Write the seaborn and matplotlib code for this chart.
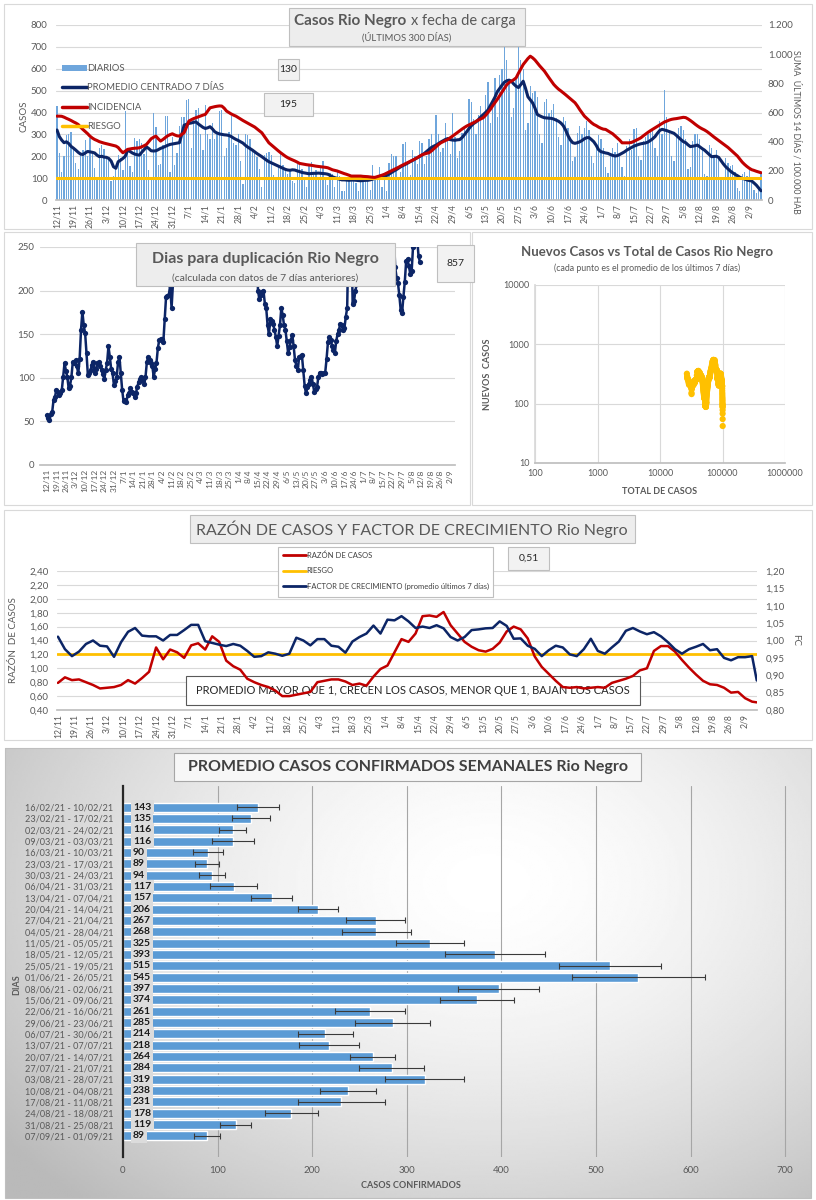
import numpy as np
import pandas as pd
import matplotlib
matplotlib.use("Agg")
import matplotlib.pyplot as plt
import seaborn as sns
from matplotlib.patches import Rectangle, Patch
from matplotlib.lines import Line2D
from matplotlib.ticker import FuncFormatter, NullLocator

# ------------------------------------------------------------------ DATA
FECHA_INICIO = "2020-11-12"

diarios = [
    430, 215, 130, 200, 295, 300, 310,
    240, 170, 140, 205, 230, 275, 200,
    285, 210, 145, 90, 240, 250, 235,
    200, 190, 85, 110, 140, 205, 190,
    135, 405, 230, 155, 130, 285, 270,
    280, 260, 210, 250, 135, 95, 400,
    335, 160, 165, 250, 385, 385, 130,
    290, 160, 215, 340, 380, 380, 455,
    460, 240, 380, 410, 420, 300, 230,
    435, 300, 280, 350, 280, 300, 405,
    410, 200, 240, 310, 385, 260, 250,
    300, 180, 75, 300, 295, 280, 230,
    225, 195, 140, 60, 205, 215, 220,
    205, 115, 90, 150, 215, 160, 145,
    120, 140, 85, 80, 165, 160, 140,
    95, 60, 155, 175, 120, 135, 100,
    145, 180, 100, 70, 125, 120, 60,
    135, 110, 40, 40, 95, 100, 110,
    95, 80, 40, 100, 110, 105, 90,
    45, 160, 100, 110, 150, 60, 90,
    40, 170, 210, 200, 200, 100, 130,
    255, 265, 175, 115, 230, 200, 165,
    270, 260, 165, 200, 280, 300, 245,
    390, 300, 220, 240, 350, 285, 210,
    400, 290, 190, 225, 305, 330, 320,
    460, 450, 370, 300, 390, 430, 380,
    480, 540, 350, 420, 560, 380, 570,
    600, 705, 640, 530, 380, 420, 560,
    705, 640, 600, 320, 350, 520, 490,
    500, 470, 300, 260, 450, 460, 400,
    410, 440, 375, 290, 250, 380, 360,
    330, 280, 180, 195, 305, 340, 300,
    330, 360, 320, 200, 170, 255, 295,
    280, 240, 150, 125, 215, 240, 220,
    260, 205, 150, 110, 245, 280, 230,
    325, 330, 200, 185, 270, 290, 300,
    310, 330, 240, 200, 360, 300, 505,
    380, 310, 200, 180, 300, 330, 340,
    320, 280, 140, 150, 270, 300, 300,
    280, 230, 120, 110, 250, 240, 200,
    230, 200, 100, 90, 190, 170, 155,
    160, 130, 55, 40, 120, 130, 110,
    140, 80, 45, 30, 60, 130,
]

promedio_7d = [
    320, 290, 274, 262, 266, 258, 245, 237, 228, 218,
    210, 208, 215, 222, 220, 218, 215, 205, 198, 200,
    196, 195, 190, 178, 152, 145, 175, 182, 190, 200,
    228, 222, 215, 210, 207, 205, 218, 230, 243, 235,
    225, 224, 225, 230, 236, 240, 245, 250, 254, 256,
    258, 260, 262, 300, 342, 346, 350, 352, 355, 357,
    348, 340, 332, 327, 330, 335, 325, 312, 306, 302,
    300, 298, 297, 295, 290, 283, 277, 272, 266, 260,
    250, 242, 235, 228, 220, 212, 205, 198, 190, 182,
    175, 170, 165, 160, 155, 150, 145, 140, 137, 136,
    138, 137, 133, 130, 126, 124, 122, 120, 121, 122,
    122, 123, 122, 121, 120, 118, 112, 106, 102, 99,
    95, 92, 92, 91, 90, 91, 91, 90, 89, 88,
    89, 90, 90, 92, 95, 100, 102, 104, 105, 105,
    112, 118, 125, 132, 138, 145, 152, 158, 163, 169,
    175, 181, 187, 193, 199, 205, 213, 222, 231, 240,
    246, 251, 258, 265, 271, 277, 281, 276, 274, 273,
    275, 276, 285, 298, 312, 327, 340, 350, 357, 368,
    380, 390, 400, 411, 430, 450, 470, 495, 510, 525,
    538, 545, 548, 543, 530, 520, 514, 528, 543, 510,
    472, 458, 444, 420, 391, 385, 380, 376, 375, 374,
    373, 370, 365, 360, 352, 340, 320, 295, 275, 262,
    259, 262, 266, 272, 280, 285, 285, 276, 266, 250,
    230, 221, 218, 215, 213, 208, 204, 201, 203, 208,
    214, 220, 228, 234, 240, 246, 250, 254, 257, 259,
    261, 265, 272, 280, 290, 305, 318, 323, 320, 317,
    313, 309, 305, 296, 286, 276, 267, 262, 252, 244,
    246, 248, 251, 243, 235, 228, 218, 208, 198, 199,
    200, 195, 180, 165, 152, 142, 132, 124, 117, 111,
    104, 99, 96, 92, 89, 87, 78, 68, 55, 42,
]

incidencia_14d = [
    575, 575, 574, 568, 560, 553, 545, 536, 528, 518,
    500, 484, 470, 455, 438, 425, 415, 408, 400, 395,
    390, 386, 382, 378, 374, 370, 360, 340, 324, 335,
    347, 350, 353, 355, 356, 358, 365, 372, 381, 400,
    420, 430, 438, 420, 404, 415, 428, 440, 448, 454,
    446, 440, 438, 450, 461, 500, 541, 550, 558, 564,
    570, 576, 582, 587, 610, 632, 636, 640, 643, 645,
    644, 630, 610, 600, 590, 582, 575, 565, 555, 545,
    536, 527, 518, 509, 500, 487, 474, 461, 438, 415,
    392, 378, 365, 351, 337, 324, 312, 300, 290, 282,
    275, 268, 260, 251, 248, 245, 242, 240, 238, 235,
    232, 230, 228, 226, 224, 221, 214, 207, 203, 199,
    193, 187, 181, 176, 170, 164, 164, 164, 164, 164,
    162, 161, 160, 158, 156, 155, 160, 165, 170, 176,
    184, 192, 200, 208, 216, 224, 233, 241, 249, 257,
    265, 273, 281, 290, 300, 310, 315, 320, 324, 336,
    350, 365, 380, 392, 400, 408, 415, 427, 438, 450,
    462, 474, 486, 497, 507, 515, 523, 531, 540, 548,
    556, 564, 580, 600, 620, 645, 667, 690, 715, 740,
    765, 790, 805, 815, 825, 838, 870, 900, 929, 950,
    970, 986, 975, 960, 940, 920, 902, 884, 860, 837,
    815, 792, 775, 760, 748, 735, 722, 708, 694, 680,
    667, 645, 620, 597, 575, 560, 545, 530, 518, 510,
    500, 492, 486, 484, 474, 464, 454, 440, 425, 410,
    392, 392, 392, 392, 395, 402, 410, 418, 427, 440,
    452, 464, 475, 485, 495, 505, 515, 525, 535, 541,
    548, 553, 556, 558, 561, 564, 567, 565, 556, 545,
    533, 520, 508, 497, 488, 480, 470, 458, 445, 432,
    420, 408, 396, 384, 372, 360, 345, 330, 315, 301,
    280, 260, 244, 230, 218, 208, 203, 197, 192, 187,
]
riesgo_casos = 100
caja_diarios = "130"
caja_incidencia = "195"

# dias para duplicacion (values above 250 fall outside the chart)
duplicacion = [
    57, 54, 52, 58, 61, 75, 78, 86, 84, 80,
    82, 86, 101, 117, 108, 101, 88, 91, 101, 118,
    117, 120, 113, 105, 122, 155, 176, 160, 151, 128,
    103, 106, 109, 115, 118, 105, 110, 117, 118, 114,
    109, 104, 99, 109, 117, 136, 124, 110, 105, 92,
    96, 101, 118, 124, 105, 86, 73, 75, 72, 80,
    82, 88, 84, 82, 78, 82, 90, 95, 99, 101,
    97, 93, 101, 118, 124, 120, 117, 113, 101, 110,
    117, 134, 143, 144, 145, 141, 168, 193, 194, 195,
    206, 180, 208,
    270, 285, 300, 310, 320, 330, 340, 350, 355, 360,
    370, 380, 390, 400, 410, 415, 420, 425, 430, 440,
    450, 460, 470, 480, 490, 500, 510, 520, 530, 540,
    550, 560, 570, 580, 590, 600, 600, 590, 580, 560,
    540, 520, 500, 480, 460, 440, 420, 400, 380, 360,
    345, 330, 315, 300, 290, 280, 275, 270, 265, 260,
    258,
    200, 190, 195, 198, 200, 185, 180, 160, 150, 168,
    165, 162, 155, 147, 136, 148, 160, 180, 172, 160,
    155, 142, 128, 135, 143, 149, 136, 120, 114, 109,
    124, 125, 126, 109, 91, 82, 89, 93, 97, 101,
    93, 84, 87, 89, 101, 106, 105, 104, 105, 106,
    122, 141, 147, 143, 137, 132, 128, 142, 150, 155,
    162, 160, 155, 157, 170, 180, 265, 290, 270, 185,
    188, 200, 208,
    270, 300, 330, 360, 400, 430, 460, 480, 500, 510,
    520, 520, 510, 500, 480, 460, 440, 420, 400, 380,
    360, 340, 320, 300, 285, 275, 265,
    227, 215, 209, 195, 178, 174, 193, 210, 234, 236,
    228, 219, 222, 250, 270, 290, 260, 240, 233,
]
caja_duplicacion = "857"

total_inicial = 26500   # casos acumulados antes del primer dia

paso_razon = 3
razon_casos = [
    0.79, 0.87, 0.83, 0.84, 0.80, 0.76, 0.71, 0.72, 0.73, 0.76,
    0.83, 0.78, 0.86, 0.95, 1.30, 1.13, 1.27, 1.23, 1.15, 1.33,
    1.36, 1.27, 1.46, 1.38, 1.11, 1.03, 0.98, 0.85, 0.80, 0.76,
    0.73, 0.68, 0.60, 0.60, 0.62, 0.64, 0.66, 0.80, 0.82, 0.84,
    0.84, 0.81, 0.76, 0.78, 0.75, 0.88, 0.99, 1.04, 1.23, 1.42,
    1.38, 1.50, 1.75, 1.76, 1.74, 1.81, 1.62, 1.50, 1.38, 1.31,
    1.26, 1.24, 1.28, 1.37, 1.53, 1.60, 1.56, 1.43, 1.17, 1.02,
    0.92, 0.82, 0.73, 0.72, 0.73, 0.71, 0.72, 0.73, 0.72, 0.79,
    0.82, 0.85, 0.89, 0.97, 1.00, 1.25, 1.32, 1.32, 1.24, 1.12,
    1.01, 0.91, 0.82, 0.77, 0.76, 0.72, 0.65, 0.66, 0.57, 0.52,
    0.51,
]
factor_crecimiento = [
    1.011, 0.975, 0.955, 0.968, 0.990, 1.000, 0.985, 0.983, 0.953, 0.995,
    1.025, 1.036, 1.014, 1.012, 1.012, 1.000, 1.016, 1.016, 1.030, 1.045,
    1.045, 0.998, 0.993, 0.988, 0.984, 0.990, 0.985, 0.970, 0.953, 0.955,
    0.966, 0.962, 0.956, 0.962, 1.008, 1.000, 0.986, 1.004, 1.004, 0.985,
    0.982, 0.965, 0.997, 1.010, 1.020, 1.043, 1.020, 1.060, 1.058, 1.070,
    1.055, 1.036, 1.040, 1.036, 1.044, 1.035, 1.010, 1.000, 1.010, 1.030,
    1.032, 1.035, 1.036, 1.055, 1.042, 1.005, 1.006, 0.985, 0.976, 0.955,
    0.972, 0.985, 0.980, 0.960, 0.955, 0.975, 1.005, 0.970, 0.962, 0.980,
    0.997, 1.028, 1.036, 1.026, 1.018, 1.024, 1.012, 0.995, 0.975, 0.962,
    0.975, 0.982, 0.990, 0.972, 0.975, 0.950, 0.943, 0.952, 0.952, 0.955,
    0.885,
]
riesgo_razon = 1.2
caja_razon = "0,51"

semanas = [
    "16/02/21 - 10/02/21", "23/02/21 - 17/02/21", "02/03/21 - 24/02/21",
    "09/03/21 - 03/03/21", "16/03/21 - 10/03/21", "23/03/21 - 17/03/21",
    "30/03/21 - 24/03/21", "06/04/21 - 31/03/21", "13/04/21 - 07/04/21",
    "20/04/21 - 14/04/21", "27/04/21 - 21/04/21", "04/05/21 - 28/04/21",
    "11/05/21 - 05/05/21", "18/05/21 - 12/05/21", "25/05/21 - 19/05/21",
    "01/06/21 - 26/05/21", "08/06/21 - 02/06/21", "15/06/21 - 09/06/21",
    "22/06/21 - 16/06/21", "29/06/21 - 23/06/21", "06/07/21 - 30/06/21",
    "13/07/21 - 07/07/21", "20/07/21 - 14/07/21", "27/07/21 - 21/07/21",
    "03/08/21 - 28/07/21", "10/08/21 - 04/08/21", "17/08/21 - 11/08/21",
    "24/08/21 - 18/08/21", "31/08/21 - 25/08/21", "07/09/21 - 01/09/21",
]
promedio_semanal = [143, 135, 116, 116, 90, 89, 94, 117, 157, 206, 267, 268, 325, 393, 515,
                    545, 397, 374, 261, 285, 214, 218, 264, 284, 319, 238, 231, 178, 119, 89]
error_semanal = [22, 20, 14, 22, 16, 13, 14, 25, 22, 21, 31, 36, 36, 53, 54,
                 70, 43, 39, 37, 40, 29, 32, 24, 34, 42, 30, 46, 28, 16, 14]

assert len(diarios) == 300 and len(promedio_7d) == 300 and len(incidencia_14d) == 300
assert len(duplicacion) == 273 and len(razon_casos) == 101 and len(factor_crecimiento) == 101

# ------------------------------------------------------------------ STYLE
sns.set_theme(style="white")
plt.rcParams["font.family"] = ["Lato", "DejaVu Sans"]
GRIS_TXT = "#595959"
AZUL_BAR = "#5B9BD5"
NAVY = "#0C2566"
ROJO = "#C00000"
AMARILLO = "#FFC000"
GRID = "#D9D9D9"

W, H = 816, 1200
fig = plt.figure(figsize=(8.16, 12), dpi=100)
fig.patch.set_facecolor("white")


def rect(x0, y0, x1, y1):
    return [x0 / W, 1 - y1 / H, (x1 - x0) / W, (y1 - y0) / H]


def caja(x0, y0, x1, y1, fc="#F2F2F2", ec="#BFBFBF", lw=0.8, z=2):
    fig.add_artist(Rectangle((x0 / W, 1 - y1 / H), (x1 - x0) / W, (y1 - y0) / H,
                             transform=fig.transFigure, fc=fc, ec=ec, lw=lw, zorder=z))


def texto(x, y, s, **kw):
    kw.setdefault("color", GRIS_TXT)
    kw.setdefault("ha", "center")
    kw.setdefault("va", "center")
    fig.text(x / W, 1 - y / H, s, **kw)


fechas = pd.date_range(FECHA_INICIO, periods=len(diarios))
dia = np.arange(len(diarios))
tick_pos = dia[::7]
tick_lab = [f"{d.day}/{d.month}" for d in fechas[::7]]
coma2 = FuncFormatter(lambda v, p: f"{v:.2f}".replace(".", ","))
miles = FuncFormatter(lambda v, p: f"{v:,.0f}".replace(",", "."))

# panel borders
for b in [(4, 4, 812, 229), (4, 232, 470, 505), (472, 232, 812, 505), (4, 510, 812, 740)]:
    caja(*b, fc="none", ec="#D9D9D9", lw=0.8, z=0.5)

# ============================================================ 1. CASOS DIARIOS
df1 = pd.DataFrame({"dia": dia, "diarios": diarios, "promedio": promedio_7d,
                    "incidencia": incidencia_14d})
ax1 = fig.add_axes(rect(55.8, 25, 762.2, 200))
sns.barplot(data=df1, x="dia", y="diarios", native_scale=True, color="#6FA6DC",
            width=0.55, saturation=1, errorbar=None, linewidth=0, ax=ax1)
sns.lineplot(data=df1, x="dia", y="promedio", color=NAVY, lw=2.2, ax=ax1)
ax1.axhline(riesgo_casos, color=AMARILLO, lw=2.2)
ax1.set_xlim(-0.5, 299.5)
ax1.set_ylim(0, 800)
ax1.set_yticks(range(0, 801, 100))
ax1.set_xticks(tick_pos)
ax1.set_xticklabels(tick_lab, rotation=90, fontsize=6.2, color=GRIS_TXT)
ax1.tick_params(axis="y", labelsize=7, labelcolor=GRIS_TXT, length=0, pad=6)
ax1.tick_params(axis="x", length=2, color="#BFBFBF", pad=1)
ax1.yaxis.grid(True, color=GRID, lw=0.8)
ax1.set_axisbelow(True)
for s in ["top", "right", "left"]:
    ax1.spines[s].set_visible(False)
ax1.spines["bottom"].set_color("#BFBFBF")
ax1.set_xlabel("")
ax1.set_ylabel("")

ax1b = ax1.twinx()
sns.lineplot(data=df1, x="dia", y="incidencia", color=ROJO, lw=2.2, ax=ax1b)
ax1b.set_ylim(0, 1200)
ax1b.set_yticks(range(0, 1201, 200))
ax1b.yaxis.set_major_formatter(miles)
ax1b.tick_params(axis="y", labelsize=7, labelcolor=GRIS_TXT, length=0, pad=4)
for s in ax1b.spines.values():
    s.set_visible(False)
ax1b.set_ylabel("")
texto(24, 116, "CASOS", rotation=90, fontsize=7)
texto(796, 132, "SUMA  ÚLTIMOS 14 DÍAS / 100.000 HAB", rotation=-90, fontsize=6.3)

handles = [Patch(fc="#6FA6DC", ec="none"), Line2D([], [], color=NAVY, lw=2.5),
           Line2D([], [], color=ROJO, lw=2.5), Line2D([], [], color=AMARILLO, lw=2.5)]
leg = ax1b.legend(handles, ["DIARIOS", "PROMEDIO CENTRADO 7 DÍAS", "INCIDENCIA", "RIESGO"],
                  loc="upper left", bbox_to_anchor=(62 / W, 1 - 64 / H),
                  bbox_transform=fig.transFigure, frameon=False, fontsize=6.8,
                  handlelength=2.6, handleheight=0.6, handletextpad=0.1,
                  labelspacing=1.1, borderpad=0, borderaxespad=0)
for t in leg.get_texts():
    t.set_color(GRIS_TXT)

caja(289, 8, 525, 46, fc="#EDEDED", ec="#BFBFBF")
texto(406, 21, "Casos Rio Negro", ha="right", fontsize=11, fontweight="bold")
texto(411, 21, "x fecha de carga", ha="left", fontsize=10.5)
texto(407, 37, "(ÚLTIMOS 300 DÍAS)", fontsize=6.8)
caja(278, 59, 299, 80, fc="#F2F2F2", ec="#BFBFBF")
texto(288.5, 69.5, caja_diarios, fontsize=7.5, color="#262626")
caja(264, 93, 313, 116, fc="#F2F2F2", ec="#BFBFBF")
texto(288.5, 104.5, caja_incidencia, fontsize=7.5, color="#262626")

# ============================================================ 2. DUPLICACION
df2 = pd.DataFrame({"dia": dia[:len(duplicacion)], "dup": duplicacion})
ax2 = fig.add_axes(rect(40, 247, 455, 465))
sns.lineplot(data=df2, x="dia", y="dup", color=NAVY, lw=1.8, marker="o",
             markersize=3.8, markeredgewidth=0, ax=ax2)
ax2.set_xlim(-4.9, 297.6)
ax2.set_ylim(0, 250)
ax2.set_yticks(range(0, 251, 50))
ax2.set_xticks(tick_pos)
ax2.set_xticklabels(tick_lab, rotation=90, fontsize=6, color=GRIS_TXT)
ax2.tick_params(axis="y", labelsize=7, labelcolor=GRIS_TXT, length=0, pad=4)
ax2.tick_params(axis="x", length=2, color="#BFBFBF", pad=1)
ax2.yaxis.grid(True, color=GRID, lw=0.8)
ax2.set_axisbelow(True)
for s in ["top", "right", "left"]:
    ax2.spines[s].set_visible(False)
ax2.spines["bottom"].set_color("#BFBFBF")
ax2.set_xlabel("")
ax2.set_ylabel("")
caja(136, 243, 395, 286, fc="#EDEDED", ec="#BFBFBF")
texto(265.5, 259, "Dias para duplicación Rio Negro", fontsize=11.5, fontweight="bold")
texto(265.5, 278, "(calculada con datos de 7 días anteriores)", fontsize=7.5)
caja(437, 245, 474, 282, fc="#F2F2F2", ec="#BFBFBF")
texto(455.5, 263.5, caja_duplicacion, fontsize=7.5, color="#262626")

# ============================================================ 3. NUEVOS vs TOTAL
df3 = pd.DataFrame({"total": total_inicial + np.cumsum(diarios), "nuevos": promedio_7d})
ax3 = fig.add_axes(rect(535, 285, 785, 463))
sns.scatterplot(data=df3, x="total", y="nuevos", color=AMARILLO, s=20,
                edgecolor="none", ax=ax3, zorder=3)
ax3.set_xscale("log")
ax3.set_yscale("log")
ax3.set_xlim(100, 1e6)
ax3.set_ylim(10, 1e4)
ax3.set_xticks([100, 1000, 10000, 100000, 1000000])
ax3.set_yticks([10, 100, 1000, 10000])
ax3.xaxis.set_major_formatter(FuncFormatter(lambda v, p: f"{v:.0f}"))
ax3.yaxis.set_major_formatter(FuncFormatter(lambda v, p: f"{v:.0f}"))
ax3.xaxis.set_minor_locator(NullLocator())
ax3.yaxis.set_minor_locator(NullLocator())
ax3.tick_params(labelsize=6.5, labelcolor=GRIS_TXT, length=0, pad=4)
ax3.grid(True, color=GRID, lw=0.8)
ax3.set_axisbelow(True)
for s in ["top", "right"]:
    ax3.spines[s].set_visible(False)
ax3.spines["bottom"].set_color("#BFBFBF")
ax3.spines["left"].set_color(GRID)
ax3.set_xlabel("")
ax3.set_ylabel("")
texto(647, 252, "Nuevos Casos vs Total de Casos Rio Negro", fontsize=9.5, fontweight="bold")
texto(647, 268, "(cada punto es el promedio de los últimos 7 días)", fontsize=6.3)
texto(488, 374, "NUEVOS  CASOS", rotation=90, fontsize=6.5, fontweight="bold")
texto(660, 492, "TOTAL DE CASOS", fontsize=6.5, fontweight="bold")

# ============================================================ 4. RAZON / FC
dias_razon = list(range(0, len(diarios) - 2, paso_razon)) + [len(diarios) - 1]
df4 = pd.DataFrame({"dia": dias_razon, "razon": razon_casos, "fc": factor_crecimiento})
ax4 = fig.add_axes(rect(57, 571, 757, 710))
sns.lineplot(data=df4, x="dia", y="razon", color=ROJO, lw=1.8, ax=ax4, zorder=3)
ax4.axhline(riesgo_razon, color=AMARILLO, lw=2.0, zorder=2.5)
ax4.set_xlim(-0.4, 299.1)
ax4.set_ylim(0.4, 2.4)
ax4.set_yticks(np.arange(0.4, 2.41, 0.2))
ax4.yaxis.set_major_formatter(coma2)
ax4.set_xticks(tick_pos)
ax4.set_xticklabels(tick_lab, rotation=90, fontsize=6.2, color=GRIS_TXT)
ax4.tick_params(axis="y", labelsize=7, labelcolor=GRIS_TXT, length=0, pad=6)
ax4.tick_params(axis="x", length=2, color="#BFBFBF", pad=1)
ax4.yaxis.grid(True, color=GRID, lw=0.8)
ax4.set_axisbelow(True)
for s in ["top", "right", "left"]:
    ax4.spines[s].set_visible(False)
ax4.spines["bottom"].set_color("#BFBFBF")
ax4.set_xlabel("")
ax4.set_ylabel("")
ax4.add_patch(Rectangle((186 / W, 1 - 705 / H), (640 - 186) / W, 29 / H,
                        transform=fig.transFigure, fc="white", ec="#595959", lw=0.8,
                        zorder=1.5, clip_on=False))
ax4.text(413 / W, 1 - 691 / H,
         "PROMEDIO MAYOR QUE 1, CRECEN LOS CASOS, MENOR QUE 1, BAJAN LOS CASOS",
         transform=fig.transFigure, ha="center", va="center", fontsize=8,
         color="#262626", zorder=1.6)

ax4b = ax4.twinx()
sns.lineplot(data=df4, x="dia", y="fc", color=NAVY, lw=1.8, ax=ax4b)
ax4b.set_ylim(0.8, 1.2)
ax4b.set_yticks(np.arange(0.8, 1.201, 0.05))
ax4b.yaxis.set_major_formatter(coma2)
ax4b.tick_params(axis="y", labelsize=7, labelcolor=GRIS_TXT, length=0, pad=6)
for s in ax4b.spines.values():
    s.set_visible(False)
ax4b.set_ylabel("")
texto(14, 640, "RAZÓN  DE CASOS", rotation=90, fontsize=7)
texto(796, 640, "FC", rotation=-90, fontsize=7)

caja(190, 515, 635, 543, fc="#EDEDED", ec="#BFBFBF")
texto(412, 529.5, "RAZÓN DE CASOS Y FACTOR DE CRECIMIENTO Rio Negro", fontsize=11.5)
caja(278, 547, 493, 597, fc="white", ec="#BFBFBF")
leg4 = fig.legend([Line2D([], [], color=ROJO, lw=2), Line2D([], [], color=AMARILLO, lw=2),
                   Line2D([], [], color=NAVY, lw=2)],
                  ["RAZÓN DE CASOS", "RIESGO", "FACTOR DE CRECIMIENTO (promedio últimos 7 días)"],
                  loc="upper left", bbox_to_anchor=(283 / W, 1 - 551 / H),
                  frameon=False, fontsize=5.5,
                  handlelength=3.0, handletextpad=0.1, labelspacing=1.15,
                  borderpad=0, borderaxespad=0)
leg4.set_zorder(6)
for t in leg4.get_texts():
    t.set_color("#404040")
caja(508, 547, 549, 570, fc="#F2F2F2", ec="#BFBFBF")
texto(528.5, 558.5, caja_razon, fontsize=7.5, color="#262626")

# ============================================================ 5. SEMANALES
axbg = fig.add_axes(rect(5, 748, 811, 1198))
axbg.set_zorder(-5)
yy, xx = np.mgrid[0:1:240j, 0:1:400j]
rr = np.sqrt(((xx - 0.6) / 0.75) ** 2 + ((yy - 0.3) / 0.95) ** 2)
fondo = 1 - 0.27 * np.clip(rr, 0, 1) ** 1.6
axbg.imshow(fondo, cmap="gray", vmin=0, vmax=1, aspect="auto", extent=[0, 1, 1, 0],
            interpolation="bilinear")
axbg.set_xlim(0, 1)
axbg.set_ylim(1, 0)
axbg.axis("off")
caja(5, 748, 811, 1198, fc="none", ec="#BFBFBF", lw=0.8, z=0.5)

df5 = pd.DataFrame({"semana": semanas, "promedio": promedio_semanal, "err": error_semanal})
ax5 = fig.add_axes(rect(123, 785.8, 787, 1157.2))
ax5.patch.set_alpha(0)
sns.barplot(data=df5, y="semana", x="promedio", orient="h", color=AZUL_BAR,
            width=0.78, saturation=1, errorbar=None, ax=ax5, zorder=2)
ax5.errorbar(df5["promedio"], np.arange(len(df5)), xerr=df5["err"], fmt="none",
             ecolor="#3A3A3A", elinewidth=0.8, capsize=2, capthick=0.8, zorder=3)
for i, v in enumerate(promedio_semanal):
    ax5.text(10.6, i, str(v), ha="left", va="center", fontsize=7.5, fontweight="bold",
             color="#1A1A1A", zorder=4,
             bbox=dict(boxstyle="square,pad=0.22", fc="#DCDCDC", ec="none"))
ax5.set_xlim(0, 702)
ax5.set_xticks(range(0, 701, 100))
ax5.tick_params(axis="x", labelsize=7, labelcolor=GRIS_TXT, length=0, pad=6)
ax5.tick_params(axis="y", labelsize=6.6, labelcolor=GRIS_TXT, length=0, pad=7)
ax5.xaxis.grid(True, color="#A6A6A6", lw=0.8)
ax5.set_axisbelow(True)
for s in ["top", "right", "bottom"]:
    ax5.spines[s].set_visible(False)
ax5.spines["left"].set_color("#262626")
ax5.spines["left"].set_linewidth(1.6)
ax5.set_xlabel("")
ax5.set_ylabel("")
texto(411, 1186, "CASOS CONFIRMADOS", fontsize=6.5, fontweight="bold")
texto(17, 985, "DIAS", rotation=90, fontsize=6.5, fontweight="bold")
caja(174, 753, 641, 781, fc="#F7F7F7", ec="#A6A6A6")
texto(407.5, 767, "PROMEDIO CASOS CONFIRMADOS SEMANALES Rio Negro", fontsize=11.5,
      fontweight="bold", color="#404040")

fig.savefig("out.png", dpi=100)
